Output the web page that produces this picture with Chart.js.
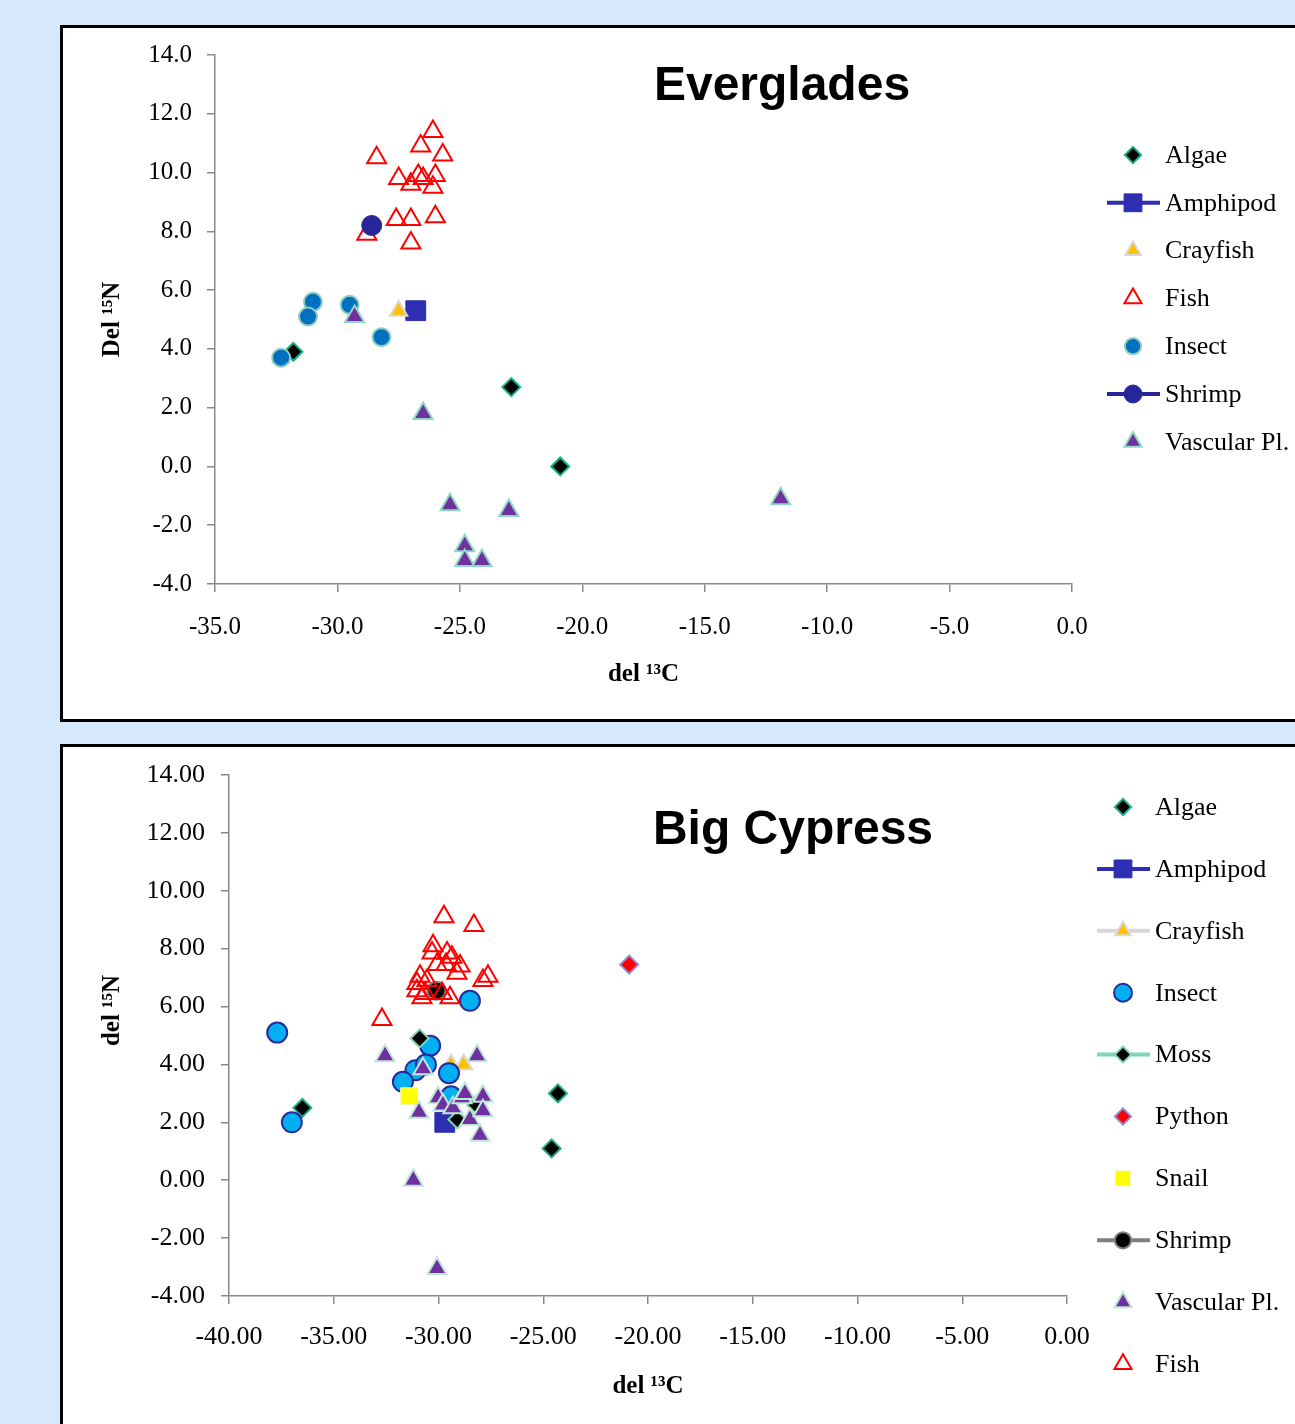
<!DOCTYPE html>
<html>
<head>
<meta charset="utf-8">
<script src="https://cdn.jsdelivr.net/npm/chart.js@4.4.0/dist/chart.umd.min.js"></script>
<style>
body { margin:0; background:#d5e8fc; width:1295px; height:1424px; overflow:hidden; position:relative; }
.panel { position:absolute; left:60px; width:1260px; background:#fff; border:3px solid #000; box-sizing:border-box; }
#p1 { top:25px; height:697px; }
#p2 { top:744px; height:700px; }
canvas { position:absolute; left:0; }
#c1 { top:0; }
#c2 { top:722px; }
</style>
</head>
<body>
<div class="panel" id="p1"></div>
<div class="panel" id="p2"></div>
<canvas id="c1" width="1295" height="721"></canvas>
<canvas id="c2" width="1295" height="702"></canvas>
<script>
// ---- Everglades data (del 13C, del 15N) ----
var evAlgaeX = [-31.8, -22.9, -20.9];
var evAlgaeY = [3.9, 2.7, 0.0];
var evAmphipodX = [-26.8];
var evAmphipodY = [5.3];
var evCrayfishX = [-27.5];
var evCrayfishY = [5.3];
var evFishX = [-26.1, -26.6, -25.7, -28.4, -27.5, -27.0, -26.7, -26.5, -26.0, -26.1, -26.0, -27.6, -27.0, -28.8, -27.0];
var evFishY = [11.4, 10.9, 10.6, 10.5, 9.8, 9.6, 9.9, 9.8, 9.9, 9.5, 8.5, 8.4, 8.4, 7.9, 7.6];
var evInsectX = [-31.0, -31.2, -29.5, -28.2, -32.3];
var evInsectY = [5.6, 5.1, 5.5, 4.4, 3.7];
var evShrimpX = [-28.6];
var evShrimpY = [8.2];
var evVascX = [-29.3, -26.5, -25.4, -23.0, -24.8, -24.8, -24.1, -11.9];
var evVascY = [5.1, 1.8, -1.3, -1.5, -2.7, -3.2, -3.2, -1.1];

// ---- Big Cypress data ----
var bcAlgaeX = [-36.5, -24.3, -24.6];
var bcAlgaeY = [2.5, 3.0, 1.1];
var bcAmphipodX = [-29.7];
var bcAmphipodY = [2.0];
var bcCrayfishX = [-29.4, -28.8];
var bcCrayfishY = [4.0, 4.0];
var bcInsectX = [-37.7, -37.0, -28.5, -30.4, -31.1, -30.6, -31.7, -29.5, -29.4];
var bcInsectY = [5.1, 2.0, 6.2, 4.65, 3.8, 4.0, 3.4, 3.7, 2.9];
var bcMossX = [-30.9, -29.1, -28.2];
var bcMossY = [4.9, 2.1, 2.6];
var bcPythonX = [-20.9];
var bcPythonY = [7.45];
var bcSnailX = [-31.4];
var bcSnailY = [2.9];
var bcShrimpX = [-30.1];
var bcShrimpY = [6.55];
var bcVascX = [-32.55, -31.2, -30.07, -30.74, -30.93, -30.02, -29.79, -29.31, -28.88, -28.74, -28.5, -27.88, -27.88, -28.02, -28.16];
var bcVascY = [4.3, 0.0, -3.05, 3.85, 2.35, 2.85, 2.6, 2.5, 2.85, 3.0, 2.1, 2.9, 2.4, 1.55, 4.3];
var bcFishX = [-29.74, -28.31, -32.7, -30.26, -30.31, -29.59, -29.36, -28.97, -30.07, -29.64, -29.12, -30.88, -31.03, -30.55, -27.64, -27.88, -31.03, -30.64, -29.83, -29.45, -30.79];
var bcFishY = [9.1, 8.8, 5.55, 8.1, 7.85, 7.85, 7.7, 7.4, 7.45, 7.45, 7.15, 7.05, 6.8, 6.9, 7.05, 6.9, 6.55, 6.45, 6.45, 6.3, 6.3];

function pts(xs, ys) {
  return xs.map(function (x, i) { return { x: x, y: ys[i] }; });
}

function series(label, xs, ys, style) {
  return Object.assign({ label: label, data: pts(xs, ys), showLine: false }, style);
}

// legend drawn at the right of each panel
var sideLegend = {
  id: 'sideLegend',
  afterDraw: function (chart, args, opts) {
    var ctx = chart.ctx;
    ctx.save();
    chart.data.datasets.forEach(function (ds, i) {
      var y = opts.top + i * opts.step;
      if (ds.legendLine) {
        ctx.strokeStyle = ds.legendLine;
        ctx.lineWidth = 4;
        ctx.beginPath();
        ctx.moveTo(opts.lineX0, y);
        ctx.lineTo(opts.lineX1, y);
        ctx.stroke();
      }
      ctx.fillStyle = ds.backgroundColor;
      ctx.strokeStyle = ds.borderColor;
      ctx.lineWidth = ds.borderWidth;
      Chart.helpers.drawPoint(ctx, {
        pointStyle: ds.pointStyle,
        radius: ds.legendRadius || ds.pointRadius * 0.9,
        rotation: 0,
        borderWidth: ds.borderWidth
      }, opts.markerX, y);
      ctx.fillStyle = '#000';
      ctx.font = '26px "Liberation Serif"';
      ctx.textBaseline = 'middle';
      ctx.textAlign = 'left';
      ctx.fillText(ds.label, opts.textX, y + 1);
    });
    ctx.restore();
  }
};

var panelTitle = {
  id: 'panelTitle',
  afterDraw: function (chart, args, opts) {
    var ctx = chart.ctx;
    ctx.save();
    ctx.font = 'bold 48px "Liberation Sans"';
    ctx.fillStyle = '#000';
    ctx.textAlign = 'center';
    ctx.textBaseline = 'alphabetic';
    ctx.fillText(opts.text, opts.x, opts.y);
    ctx.restore();
  }
};

function axisOpts(cfg) {
  var axisGray = '#898989';
  return {
    x: {
      type: 'linear', min: cfg.xMin, max: 0,
      afterFit: function (s) { s.height = 110; },
      grid: { drawOnChartArea: false, drawTicks: true, tickLength: 8, color: axisGray, lineWidth: 1.5 },
      border: { display: true, color: axisGray, width: 1.5 },
      ticks: {
        stepSize: 5, padding: cfg.xPad, color: '#000',
        font: { family: 'Liberation Serif', size: cfg.tickSize },
        callback: function (v) { return v.toFixed(cfg.dec); }
      },
      title: {
        display: true, text: 'del \u00b9\u00b3C', color: '#000',
        font: { family: 'Liberation Serif', size: 25, weight: 'bold' },
        padding: { top: 0, bottom: 4 }
      }
    },
    y: {
      type: 'linear', min: -4, max: 14,
      afterFit: function (s) { s.width = cfg.yWidth; },
      grid: { drawOnChartArea: false, drawTicks: true, tickLength: 8, color: axisGray, lineWidth: 1.5 },
      border: { display: true, color: axisGray, width: 1.5 },
      ticks: {
        stepSize: 2, padding: cfg.yPad, color: '#000',
        font: { family: 'Liberation Serif', size: cfg.tickSize },
        callback: function (v) { return v.toFixed(cfg.dec); }
      },
      title: {
        display: true, text: cfg.yTitle, color: '#000',
        font: { family: 'Liberation Serif', size: 25, weight: 'bold' },
        padding: { top: 98, bottom: 0 }
      }
    }
  };
}

function withOrder(list) {
  var n = list.length;
  list.forEach(function (ds, i) { ds.order = n - i; });
  return list;
}

var evSets = withOrder([
  series('Algae', evAlgaeX, evAlgaeY, { pointStyle: 'rectRot', pointRadius: 9, backgroundColor: '#000', borderColor: '#14b086', borderWidth: 2 }),
  series('Amphipod', evAmphipodX, evAmphipodY, { pointStyle: 'rect', pointRadius: 14, backgroundColor: '#2e2eb2', borderColor: '#2e2eb2', borderWidth: 1, legendLine: '#2e2eb2' }),
  series('Crayfish', evCrayfishX, evCrayfishY, { pointStyle: 'triangle', pointRadius: 10, backgroundColor: '#ffc000', borderColor: '#d9d9d9', borderWidth: 2 }),
  series('Fish', evFishX, evFishY, { pointStyle: 'triangle', pointRadius: 11, backgroundColor: 'rgba(0,0,0,0)', borderColor: '#ff0000', borderWidth: 2 }),
  series('Insect', evInsectX, evInsectY, { pointStyle: 'circle', pointRadius: 9, backgroundColor: '#0070c0', borderColor: '#92cdbc', borderWidth: 2 }),
  series('Shrimp', evShrimpX, evShrimpY, { pointStyle: 'circle', pointRadius: 10, backgroundColor: '#26269a', borderColor: '#26269a', borderWidth: 1, legendLine: '#26269a' }),
  series('Vascular Pl.', evVascX, evVascY, { pointStyle: 'triangle', pointRadius: 11, backgroundColor: '#7030a0', borderColor: '#8fd8c2', borderWidth: 2 })
]);

var bcSets = withOrder([
  series('Algae', bcAlgaeX, bcAlgaeY, { pointStyle: 'rectRot', pointRadius: 9, backgroundColor: '#000', borderColor: '#14b086', borderWidth: 2 }),
  series('Amphipod', bcAmphipodX, bcAmphipodY, { pointStyle: 'rect', pointRadius: 14, backgroundColor: '#2e2eb2', borderColor: '#2e2eb2', borderWidth: 1, legendLine: '#2e2eb2' }),
  series('Crayfish', bcCrayfishX, bcCrayfishY, { pointStyle: 'triangle', pointRadius: 10, backgroundColor: '#ffc000', borderColor: '#d9d9d9', borderWidth: 2, legendLine: '#d9d9d9' }),
  series('Insect', bcInsectX, bcInsectY, { pointStyle: 'circle', pointRadius: 10, backgroundColor: '#00b0f0', borderColor: '#2a2a9c', borderWidth: 2 }),
  series('Moss', bcMossX, bcMossY, { pointStyle: 'rectRot', pointRadius: 9, backgroundColor: '#000', borderColor: '#7fd6b4', borderWidth: 2, legendLine: '#7fd6b4' }),
  series('Python', bcPythonX, bcPythonY, { pointStyle: 'rectRot', pointRadius: 9, backgroundColor: '#ff0000', borderColor: '#8c8ce0', borderWidth: 2 }),
  series('Snail', bcSnailX, bcSnailY, { pointStyle: 'rect', pointRadius: 12, backgroundColor: '#ffff00', borderColor: '#f4f4d0', borderWidth: 1 }),
  series('Shrimp', bcShrimpX, bcShrimpY, { pointStyle: 'circle', pointRadius: 9, backgroundColor: '#000', borderColor: '#7f7f7f', borderWidth: 2, legendLine: '#7f7f7f' }),
  series('Vascular Pl.', bcVascX, bcVascY, { pointStyle: 'triangle', pointRadius: 11, backgroundColor: '#7030a0', borderColor: '#bfe6d6', borderWidth: 2 }),
  series('Fish', bcFishX, bcFishY, { pointStyle: 'triangle', pointRadius: 11, backgroundColor: 'rgba(0,0,0,0)', borderColor: '#ff0000', borderWidth: 2 })
]);

new Chart(document.getElementById('c1'), {
  type: 'scatter',
  data: { datasets: evSets },
  plugins: [sideLegend, panelTitle],
  options: {
    responsive: false,
    animation: false,
    layout: { padding: { left: 0, right: 223, top: 55, bottom: 27 } },
    scales: axisOpts({ xMin: -35, dec: 1, tickSize: 25, xPad: 20, yPad: 15, yWidth: 215, yTitle: 'Del \u00b9\u2075N' }),
    plugins: {
      legend: { display: false },
      tooltip: { enabled: false },
      sideLegend: { top: 155, step: 47.8, markerX: 1133, textX: 1165, lineX0: 1107, lineX1: 1160 },
      panelTitle: { text: 'Everglades', x: 782, y: 100 }
    }
  }
});

new Chart(document.getElementById('c2'), {
  type: 'scatter',
  data: { datasets: bcSets },
  plugins: [sideLegend, panelTitle],
  options: {
    responsive: false,
    animation: false,
    layout: { padding: { left: 0, right: 228, top: 53, bottom: 18 } },
    // leading spaces lift the rotated title like in the original
    scales: axisOpts({ xMin: -40, dec: 2, tickSize: 26, xPad: 18, yPad: 16, yWidth: 229, yTitle: '        del \u00b9\u2075N' }),
    plugins: {
      legend: { display: false },
      tooltip: { enabled: false },
      sideLegend: { top: 85, step: 61.9, markerX: 1123, textX: 1155, lineX0: 1097, lineX1: 1150 },
      panelTitle: { text: 'Big Cypress', x: 793, y: 122 }
    }
  }
});
</script>
</body>
</html>
